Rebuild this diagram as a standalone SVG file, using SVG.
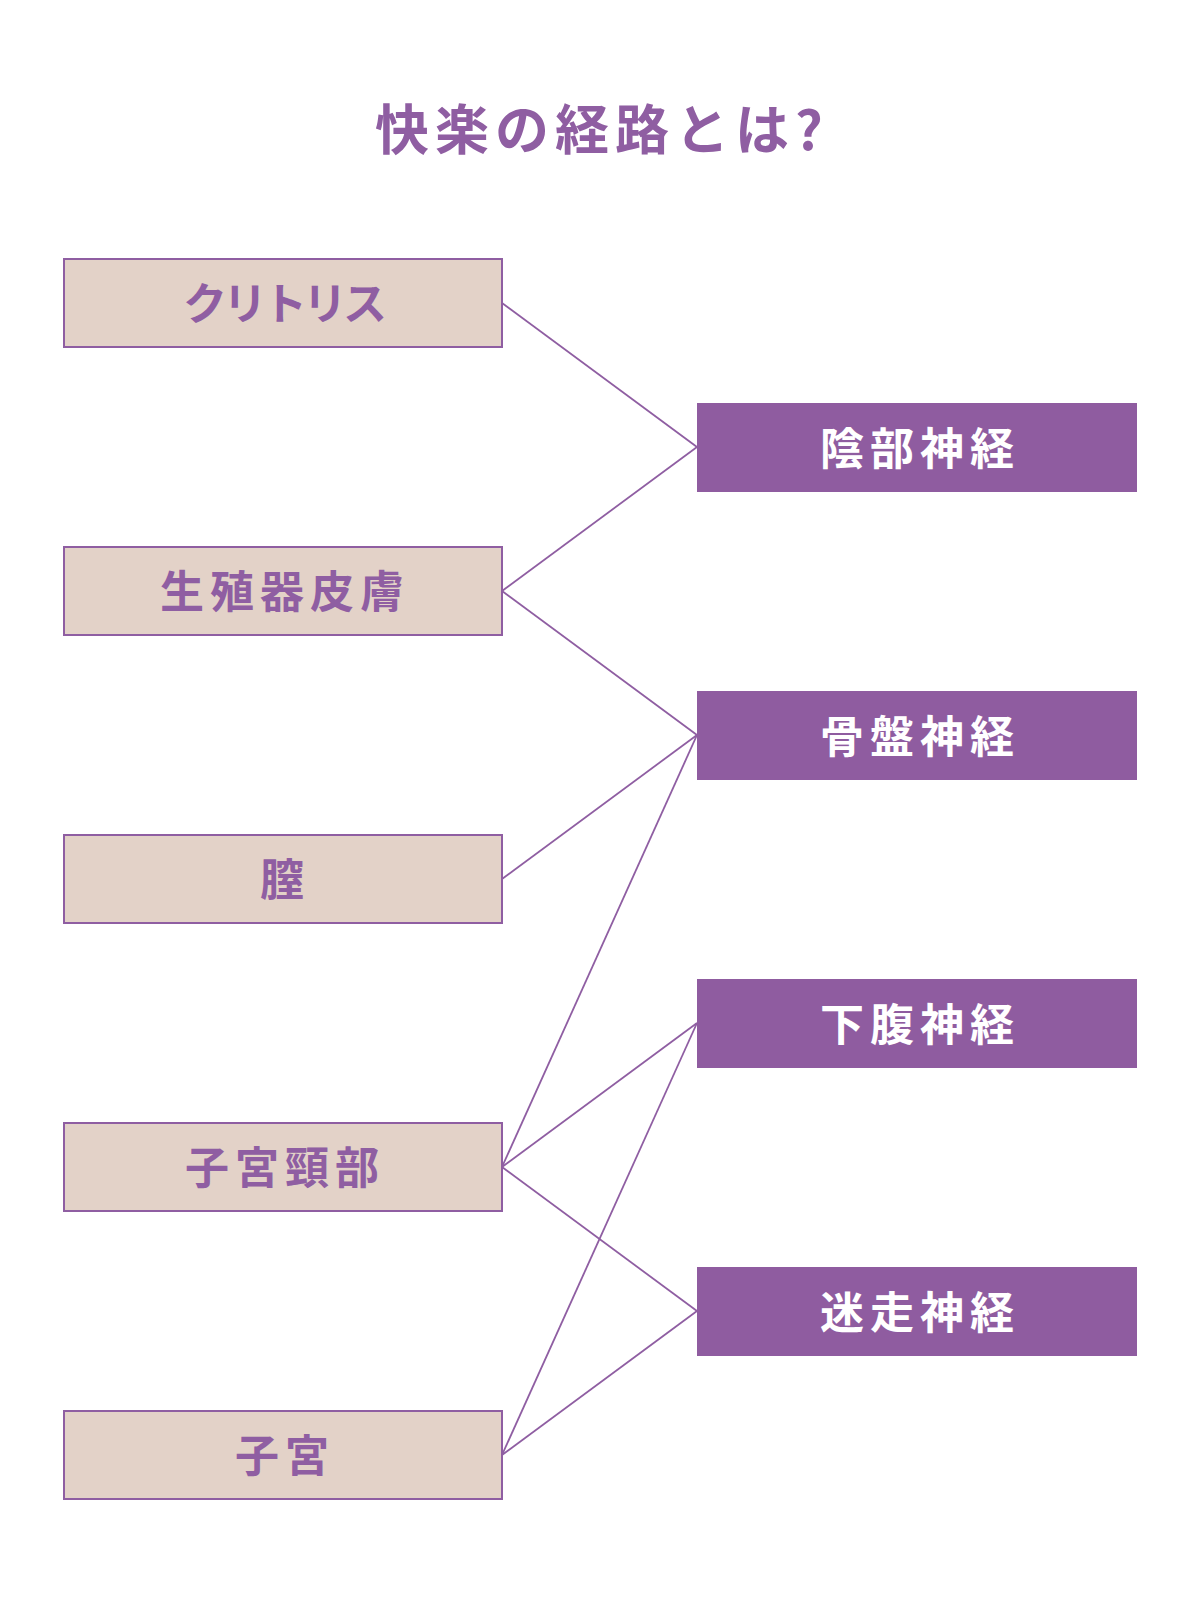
<svg xmlns="http://www.w3.org/2000/svg" width="1200" height="1600" viewBox="0 0 1200 1600">
<style>
.src rect{fill:#e3d2c8;stroke:#8f5ea2;stroke-width:2}
.dst rect{fill:#8f5ca0}
text{font-family:"Noto Sans CJK JP","Noto Sans",sans-serif;font-weight:bold;text-anchor:middle}
.src text{fill:#8f5ea2;font-size:44px;letter-spacing:6px}
.dst text{fill:#ffffff;font-size:44px;letter-spacing:6px}
#title{fill:#8f5ea2;font-size:54px;letter-spacing:6px}
#connectors line{stroke:#8f5ea2;stroke-width:1.8}
</style>
<rect width="1200" height="1600" fill="#ffffff"/>
<text id="title" x="602" y="150">快楽の経路とは?</text>
<g id="connectors">
<line x1="502" y1="303" x2="697" y2="447"/>
<line x1="502" y1="591" x2="697" y2="447"/>
<line x1="502" y1="591" x2="697" y2="735"/>
<line x1="502" y1="879" x2="697" y2="735"/>
<line x1="502" y1="1167" x2="697" y2="735"/>
<line x1="502" y1="1167" x2="697" y2="1023"/>
<line x1="502" y1="1167" x2="697" y2="1311"/>
<line x1="502" y1="1455" x2="697" y2="1023"/>
<line x1="502" y1="1455" x2="697" y2="1311"/>
</g>
<g id="n-clitoris" class="src"><rect x="64" y="259" width="438" height="88"/><text x="283" y="320" style="letter-spacing:-4px">クリトリス</text></g>
<g id="n-skin" class="src"><rect x="64" y="547" width="438" height="88"/><text x="285" y="608">生殖器皮膚</text></g>
<g id="n-vagina" class="src"><rect x="64" y="835" width="438" height="88"/><text x="285" y="896">膣</text></g>
<g id="n-cervix" class="src"><rect x="64" y="1123" width="438" height="88"/><text x="285" y="1184">子宮頸部</text></g>
<g id="n-uterus" class="src"><rect x="64" y="1411" width="438" height="88"/><text x="285" y="1472">子宮</text></g>
<g id="n-pudendal" class="dst"><rect x="697" y="403" width="440" height="89"/><text x="920" y="465">陰部神経</text></g>
<g id="n-pelvic" class="dst"><rect x="697" y="691" width="440" height="89"/><text x="920" y="753">骨盤神経</text></g>
<g id="n-hypogastric" class="dst"><rect x="697" y="979" width="440" height="89"/><text x="920" y="1041">下腹神経</text></g>
<g id="n-vagus" class="dst"><rect x="697" y="1267" width="440" height="89"/><text x="920" y="1329">迷走神経</text></g>
</svg>
